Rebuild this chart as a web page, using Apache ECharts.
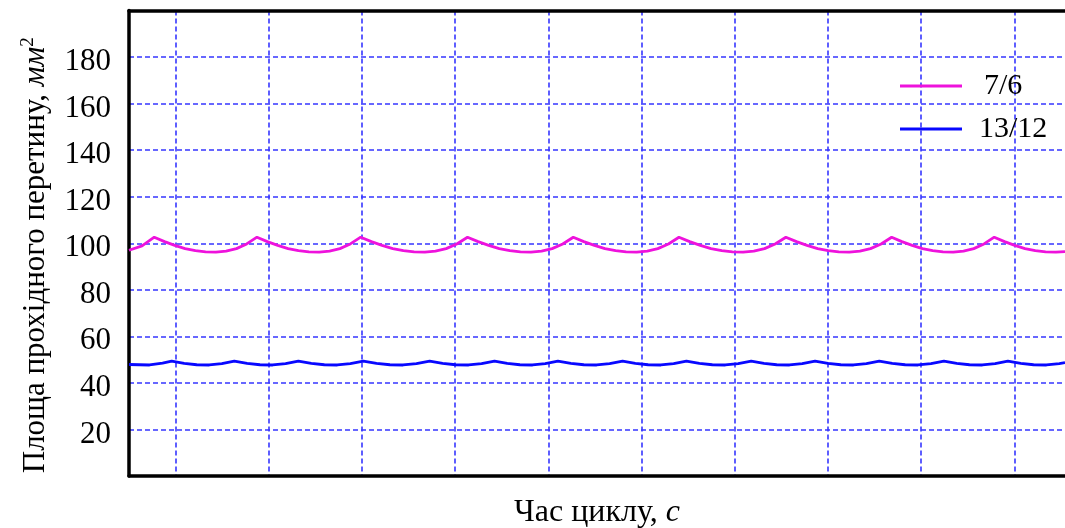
<!DOCTYPE html>
<html>
<head>
<meta charset="utf-8">
<script src="https://cdn.jsdelivr.net/npm/echarts@6/dist/echarts.min.js"></script>
<style>
  html, body { margin: 0; padding: 0; background: #fff; }
  #chart { width: 1065px; height: 528px; }
</style>
</head>
<body>
<div id="chart"></div>
<script>
// time axis: gridlines every 10 units, plot starts at -5
var seriesNames = ['7/6', '13/12'];

var pinkX = [-5.0, -3.6, -2.29,
  -1.19, -0.09, 1.02, 2.12, 3.22, 4.32, 5.42, 6.53, 7.63, 8.73,
  9.84, 10.96, 12.07, 13.18, 14.30, 15.41, 16.52, 17.63, 18.75, 19.86,
  21.01, 22.15, 23.30, 24.44, 25.59, 26.74, 27.88, 29.03, 30.17, 31.32,
  32.46, 33.59, 34.73, 35.86, 37.00, 38.13, 39.27, 40.40, 41.54, 42.67,
  43.80, 44.94, 46.07, 47.21, 48.34, 49.47, 50.61, 51.74, 52.88, 54.01,
  55.16, 56.30, 57.45, 58.60, 59.75, 60.89, 62.04, 63.19, 64.33, 65.48,
  66.62, 67.75, 68.89, 70.02, 71.16, 72.29, 73.43, 74.56, 75.70, 76.83,
  77.93, 79.03, 80.13, 81.23, 82.34, 83.44, 84.54, 85.64, 86.74, 87.84,
  88.94, 90.04, 91.14, 92.24, 93.35, 94.45, 95.43];
var pinkY = [97.0, 98.9, 102.6,
  100.7, 99.1, 97.7, 96.8, 96.3, 96.2, 96.6, 97.7, 99.7, 102.6,
  100.7, 99.1, 97.7, 96.8, 96.3, 96.2, 96.6, 97.7, 99.7, 102.6,
  100.7, 99.1, 97.7, 96.8, 96.3, 96.2, 96.6, 97.7, 99.7, 102.6,
  100.7, 99.1, 97.7, 96.8, 96.3, 96.2, 96.6, 97.7, 99.7, 102.6,
  100.7, 99.1, 97.7, 96.8, 96.3, 96.2, 96.6, 97.7, 99.7, 102.6,
  100.7, 99.1, 97.7, 96.8, 96.3, 96.2, 96.6, 97.7, 99.7, 102.6,
  100.7, 99.1, 97.7, 96.8, 96.3, 96.2, 96.6, 97.7, 99.7, 102.6,
  100.7, 99.1, 97.7, 96.8, 96.3, 96.2, 96.6, 97.7, 99.7, 102.6,
  100.7, 99.1, 97.7, 96.8, 96.3, 96.2, 96.4];

var blueX = [-5.0, -2.8, -1.4, -0.42,
  0.92, 2.27, 3.61, 4.96, 6.30,
  7.67, 9.05, 10.42, 11.80, 13.17,
  14.56, 15.96, 17.35, 18.75, 20.14,
  21.56, 22.99, 24.41, 25.84, 27.26,
  28.65, 30.04, 31.44, 32.83, 34.22,
  35.58, 36.94, 38.30, 39.66, 41.02,
  42.41, 43.80, 45.18, 46.57, 47.96,
  49.33, 50.70, 52.07, 53.44, 54.81,
  56.20, 57.59, 58.98, 60.37, 61.76,
  63.13, 64.50, 65.87, 67.24, 68.61,
  69.99, 71.37, 72.74, 74.12, 75.50,
  76.89, 78.28, 79.66, 81.05, 82.44,
  83.81, 85.18, 86.56, 87.93, 89.30,
  90.68, 92.06, 93.44, 94.82, 95.43];
var blueY = [47.9, 47.7, 48.5, 49.4,
  48.4, 47.8, 47.7, 48.3, 49.4,
  48.4, 47.8, 47.7, 48.3, 49.4,
  48.4, 47.8, 47.7, 48.3, 49.4,
  48.4, 47.8, 47.7, 48.3, 49.4,
  48.4, 47.8, 47.7, 48.3, 49.4,
  48.4, 47.8, 47.7, 48.3, 49.4,
  48.4, 47.8, 47.7, 48.3, 49.4,
  48.4, 47.8, 47.7, 48.3, 49.4,
  48.4, 47.8, 47.7, 48.3, 49.4,
  48.4, 47.8, 47.7, 48.3, 49.4,
  48.4, 47.8, 47.7, 48.3, 49.4,
  48.4, 47.8, 47.7, 48.3, 49.4,
  48.4, 47.8, 47.7, 48.3, 49.4,
  48.4, 47.8, 47.7, 48.3, 48.7];

function zip(xs, ys) {
  return xs.map(function (x, i) { return [x, ys[i]]; });
}

var font = "'Liberation Serif', 'Times New Roman', serif";

var myChart = echarts.init(document.getElementById('chart'));
var option = {
  backgroundColor: '#fff',
  animation: false,
  grid: { left: 129, right: 0, top: 10.5, bottom: 52, outerBoundsMode: 'none', containLabel: false },
  legend: {
    orient: 'vertical',
    left: 900,
    top: 69,
    padding: 0,
    itemWidth: 62,
    itemHeight: 3,
    itemGap: 9,
    icon: 'rect',
    textStyle: { fontFamily: font, fontSize: 30, color: '#000', lineHeight: 34 },
    data: [
      { name: seriesNames[0], textStyle: { padding: [0, 0, 0, 17] } },
      { name: seriesNames[1], textStyle: { padding: [0, 0, 0, 12] } }
    ]
  },
  xAxis: [
    {
      type: 'value',
      min: -5,
      max: 95.43,
      splitNumber: 10,
      name: 'Час циклу, {i|с}',
      nameLocation: 'middle',
      nameGap: 20,
      nameTextStyle: {
        fontFamily: font, fontSize: 32, color: '#000', lineHeight: 34,
        rich: { i: { fontFamily: font, fontSize: 32, fontStyle: 'italic', color: '#000' } }
      },
      axisLine: { onZero: false, lineStyle: { color: '#000', width: 3.5 } },
      axisTick: { show: false },
      axisLabel: { show: false },
      splitLine: {
        show: true, showMinLine: false, showMaxLine: false,
        lineStyle: { type: [5, 3], color: '#3636ff', width: 1.6 }
      }
    },
    {
      type: 'value',
      position: 'top',
      min: -5,
      max: 95.43,
      axisLine: { show: true, onZero: false, lineStyle: { color: '#000', width: 3.5 } },
      axisTick: { show: false },
      axisLabel: { show: false },
      splitLine: { show: false }
    }
  ],
  yAxis: {
    type: 'value',
    min: 0,
    max: 200,
    interval: 20,
    name: 'Площа прохідного перетину, {i|мм}{s|2}',
    nameLocation: 'middle',
    nameGap: 76,
    nameRotate: 90,
    nameTextStyle: {
      fontFamily: font, fontSize: 31, color: '#000', lineHeight: 34,
      padding: [0, 24, 0, 0],
      rich: {
        i: { fontFamily: font, fontSize: 31, fontStyle: 'italic', color: '#000', lineHeight: 34 },
        s: { fontFamily: font, fontSize: 19, color: '#000', verticalAlign: 'top', lineHeight: 18 }
      }
    },
    axisLine: { show: true, onZero: false, lineStyle: { color: '#000', width: 3.5 } },
    axisTick: { show: false },
    axisLabel: {
      fontFamily: font, fontSize: 31, color: '#000', margin: 18,
      verticalAlign: 'top', lineHeight: 10,
      showMinLabel: false, showMaxLabel: false
    },
    splitLine: {
      show: true, showMinLine: false, showMaxLine: false,
      lineStyle: { type: [5, 3], color: '#3636ff', width: 1.6 }
    }
  },
  series: [
    {
      name: seriesNames[0],
      type: 'line',
      symbol: 'none',
      color: '#ee12dc',
      lineStyle: { width: 2.8, color: '#ee12dc' },
      data: zip(pinkX, pinkY)
    },
    {
      name: seriesNames[1],
      type: 'line',
      symbol: 'none',
      color: '#0808ff',
      lineStyle: { width: 2.8, color: '#0808ff' },
      data: zip(blueX, blueY)
    }
  ]
};
myChart.setOption(option);
</script>
</body>
</html>
